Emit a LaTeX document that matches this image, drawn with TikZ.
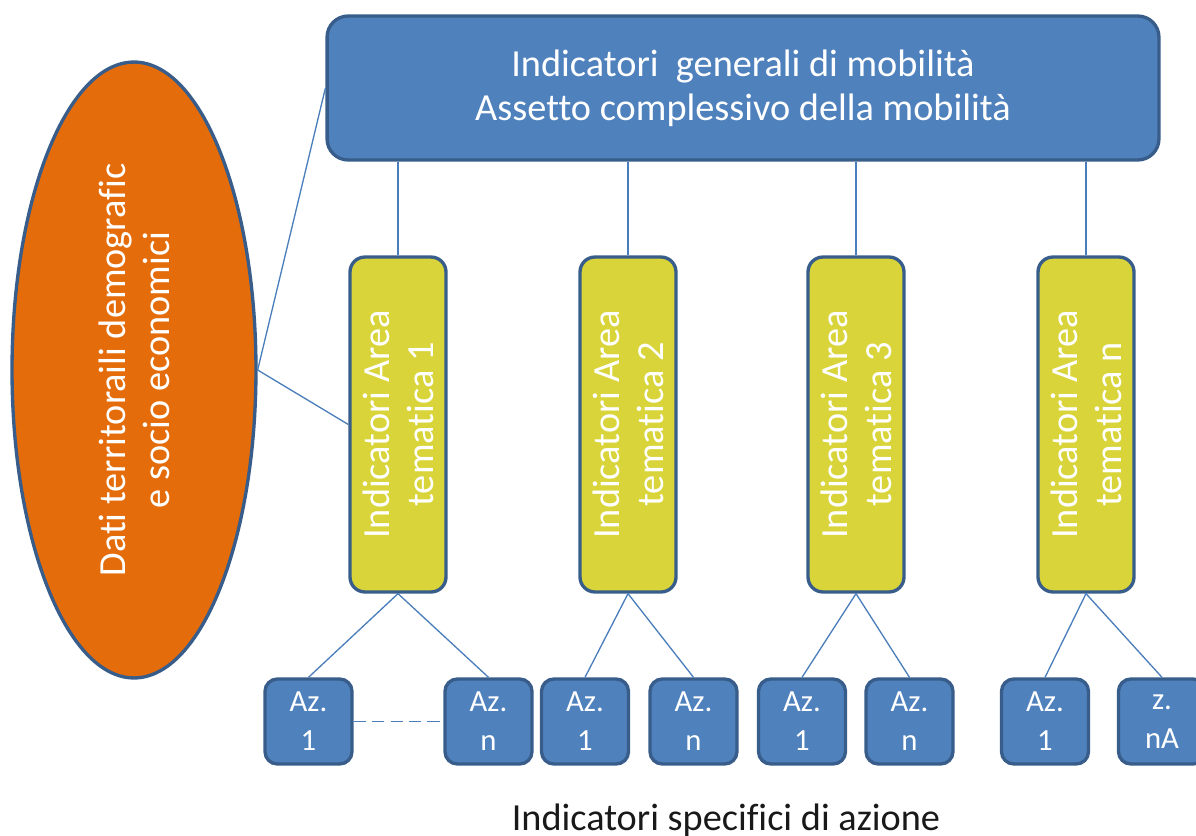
\documentclass[tikz,border=0pt]{standalone}
\usepackage{fontspec}
\setmainfont{Carlito}[Ligatures=NoCommon]
\usepackage{xcolor}
\usetikzlibrary{shapes.geometric}

\definecolor{boxblue}{RGB}{79,129,189}
\definecolor{edgeblue}{RGB}{56,93,138}
\definecolor{linkblue}{RGB}{74,126,187}
\definecolor{dataorange}{RGB}{228,108,10}
\definecolor{areayellow}{RGB}{216,212,58}

\begin{document}
\begin{tikzpicture}[x=0.02cm, y=-0.02cm,
    bigtext/.style={font=\fontsize{21.8}{25}\selectfont},
    topbox/.style={draw=edgeblue, line width=1.9pt, fill=boxblue, rounded corners=12pt,
        minimum width=16.64cm, minimum height=2.88cm, inner sep=0pt, align=center, text=white, bigtext},
    areabox/.style={draw=edgeblue, line width=1.9pt, fill=areayellow, rounded corners=8.5pt, rotate=90,
        minimum width=6.7cm, minimum height=1.92cm, inner sep=0pt, align=center, text=white, bigtext},
    azbox/.style={draw=edgeblue, line width=1.9pt, fill=boxblue, rounded corners=7pt,
        minimum width=1.74cm, minimum height=1.7cm, inner sep=0pt, align=center, text=white,
        font=\fontsize{17.5}{22.2}\selectfont},
    link/.style={draw=linkblue, line width=0.75pt}]

    \useasboundingbox (0,0) rectangle (1196,835);

    % General indicators on top
    \node[topbox] (general) at (743,88) {Indicatori~ generali di mobilità\\Assetto complessivo della mobilità};

    % Territorial data on the left
    \node[ellipse, draw=edgeblue, line width=1.9pt, fill=dataorange, rotate=90, minimum width=12.32cm,
        minimum height=4.88cm, inner sep=0pt, align=center, text=white, bigtext] (dati) at (134,370)
        {Dati territoraili demografic\\e socio economici};

    % Thematic areas
    \foreach \x/\n/\lab in {398/1/1, 628/2/2, 856/3/3, 1086/4/n} {
        \node[areabox] (area\n) at (\x,424.5) {Indicatori Area\\tematica \lab};
        \draw[link] (area\n.east) -- (area\n.east |- general.south);
    }

    % Action boxes
    \foreach \x/\n/\lineA/\lineB in {308.5/a/Az./1, 488.5/b/Az./n, 585/c/Az./1, 693.5/d/Az./n,
                                     802/e/Az./1, 909.5/f/Az./n, 1045/g/Az./1, 1162/h/z./nA} {
        \node[azbox] (az\n) at (\x,721.5) {\lineA\\\lineB};
    }
    \foreach \a/\b in {1/a, 1/b, 2/c, 2/d, 3/e, 3/f, 4/g, 4/h}
        \draw[link] (area\a.west) -- (az\b.north);
    \draw[link, line width=1pt, dash pattern=on 7pt off 3.5pt] (aza.east) -- (azb.west);

    % Links from the data
    \draw[link] (dati.south) -- (general.west);
    \draw[link] (dati.south) -- (area1.north);

    \node[bigtext, anchor=base, text=black!90] (azione) at (726,830) {Indicatori specifici di azione};

\end{tikzpicture}
\end{document}
